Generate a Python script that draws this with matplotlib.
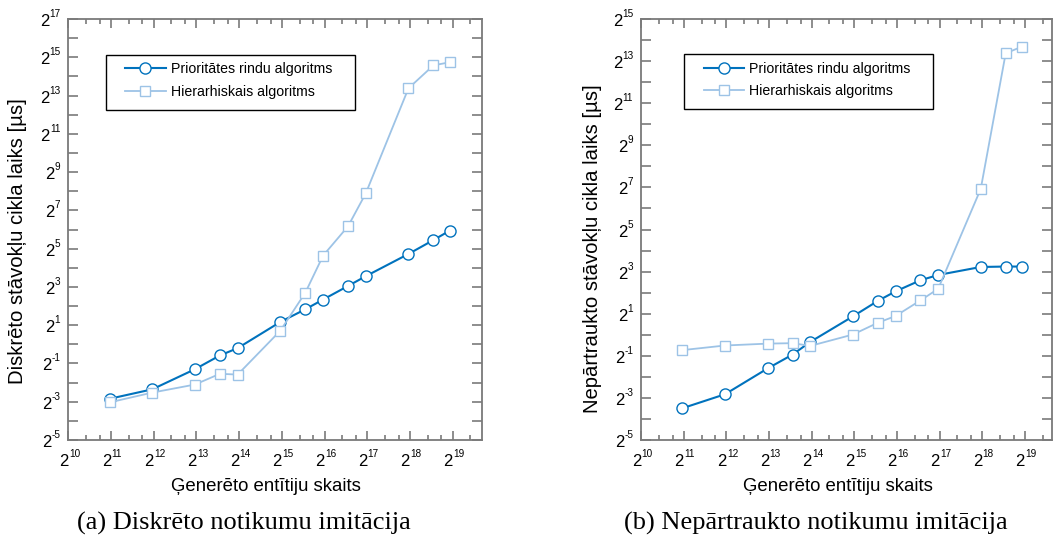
import matplotlib
matplotlib.use("Agg")
import matplotlib.pyplot as plt
import matplotlib.transforms as mtransforms
from matplotlib.ticker import FixedLocator, NullFormatter
from matplotlib.patches import Rectangle
from matplotlib.lines import Line2D

# ---------------- data ----------------
entities = [2000, 4000, 8000, 12000, 16000, 32000, 48000, 64000,
            96000, 128000, 256000, 384000, 500000]

disc_priority = [0.139, 0.196, 0.406, 0.669, 0.871, 2.25, 3.56, 5.06,
                 8.28, 11.8, 26.4, 43.7, 61.4]
disc_hier = [0.122, 0.174, 0.233, 0.344, 0.334, 1.64, 6.50, 24.8,
             72.0, 237, 10660, 24490, 27360]
cont_priority = [0.089, 0.141, 0.330, 0.521, 0.790, 1.83, 3.05, 4.17,
                 6.02, 7.16, 9.32, 9.45, 9.45]
cont_hier = [0.603, 0.702, 0.747, 0.758, 0.693, 1.007, 1.484, 1.853,
             3.10, 4.53, 122, 10580, 13210]

series_labels = ["Prioritātes rindu algoritms", "Hierarhiskais algoritms"]
x_label = "Ģenerēto entītiju skaits"
y_labels = ["Diskrēto stāvokļu cikla laiks [µs]",
            "Nepārtraukto stāvokļu cikla laiks [µs]"]
captions = ["(a) Diskrēto notikumu imitācija",
            "(b) Nepārtraukto notikumu imitācija"]
x_tick_exps = list(range(10, 20))
y_tick_exps_a = list(range(-5, 18))
y_tick_exps_b = list(range(-5, 16))

# ---------------- style ----------------
DARK = "#0072BD"
LIGHT = "#9DC3E6"
GRAY = "#7a7a7a"
SANS = "Liberation Sans"
SERIF = "Liberation Serif"
plt.rcParams["font.family"] = [SANS, "DejaVu Sans"]

fig = plt.figure(figsize=(10.54, 5.36), dpi=100)

ax_a = fig.add_axes([0.0648, 0.1791, 0.3922, 0.7854])
ax_b = fig.add_axes([0.6084, 0.1791, 0.3894, 0.7854])

panels = [
    (ax_a, disc_priority, disc_hier, y_tick_exps_a, 19.68, y_labels[0],
     (-0.124, 0.4715), (0.478, -0.121), (0.1372, 0.8979),
     (0.0907, 0.7838, 0.6028, 0.1306)),
    (ax_b, cont_priority, cont_hier, y_tick_exps_b, 19.63, y_labels[1],
     (-0.120, 0.4537), (0.479, -0.121), (0.1523, 0.8990),
     (0.1033, 0.7872, 0.6084, 0.1309)),
]

ylab_exp_texts = []

for (ax, prio, hier, yexps, xmax_e, ylab, ylab_pos, xlab_pos,
     leg_anchor, leg_rect) in panels:
    ax.set_xscale("log", base=2)
    ax.set_yscale("log", base=2)

    ax.plot(entities, prio, color=DARK, lw=1.5, marker="o", ms=8,
            mfc="white", mec=DARK, mew=1.0, zorder=3)
    ax.plot(entities, hier, color=LIGHT, lw=1.3, marker="s", ms=6.8,
            mfc="white", mec=LIGHT, mew=1.0, zorder=3)

    ax.set_xlim(2 ** 10, 2 ** xmax_e)
    ax.set_ylim(2.0 ** yexps[0], 2.0 ** yexps[-1])

    # ticks
    ax.xaxis.set_major_locator(FixedLocator([2.0 ** e for e in x_tick_exps]))
    minors = []
    for e in x_tick_exps:
        minors += [2.0 ** e * 4 / 3, 2.0 ** e * 5 / 3]
    ax.xaxis.set_minor_locator(FixedLocator(minors))
    ax.yaxis.set_major_locator(FixedLocator([2.0 ** e for e in yexps]))
    ax.yaxis.set_minor_locator(FixedLocator([]))
    ax.xaxis.set_major_formatter(NullFormatter())
    ax.xaxis.set_minor_formatter(NullFormatter())
    ax.yaxis.set_major_formatter(NullFormatter())
    ax.yaxis.set_minor_formatter(NullFormatter())
    ax.tick_params(axis="both", which="both", direction="in", top=True,
                   right=True, color=GRAY, width=1.2)
    ax.tick_params(axis="x", which="major", length=6.5)
    ax.tick_params(axis="x", which="minor", length=3.5)
    ax.tick_params(axis="y", which="major", length=7)
    for sp in ax.spines.values():
        sp.set_color(GRAY)
        sp.set_linewidth(1.3)

    # x tick labels 2^k
    tx = ax.get_xaxis_transform()
    for e in x_tick_exps:
        ax.text(2.0 ** e, 0, "2",
                transform=mtransforms.offset_copy(tx, fig, x=0, y=-25.5, units="dots"),
                ha="right", va="baseline", fontsize=12, color="black")
        ax.text(2.0 ** e, 0, str(e),
                transform=mtransforms.offset_copy(tx, fig, x=0.5, y=-16.5, units="dots"),
                ha="left", va="baseline", fontsize=7.2, color="black")

    # y tick label exponents (the "2" is placed after measuring)
    ty = ax.get_yaxis_transform()
    for e in yexps:
        if e % 2 == 0:
            continue
        t = ax.text(0, 2.0 ** e, str(e),
                    transform=mtransforms.offset_copy(ty, fig, x=-8, y=2, units="dots"),
                    ha="right", va="baseline", fontsize=7.2, color="black")
        ylab_exp_texts.append((ax, e, t))

    # axis labels
    ax.set_xlabel(x_label, fontsize=13.4, va="baseline", ha="center")
    ax.xaxis.set_label_coords(*xlab_pos)
    ax.set_ylabel(ylab, fontsize=14.6, va="center", ha="center")
    ax.yaxis.set_label_coords(*ylab_pos)

    # legend (frame drawn as a rectangle)
    ax.add_patch(Rectangle(leg_rect[:2], leg_rect[2], leg_rect[3],
                           transform=ax.transAxes, facecolor="white",
                           edgecolor="black", lw=1.0, zorder=4.5))
    handles = [
        Line2D([], [], color=DARK, lw=1.5, marker="o", ms=8, mfc="white",
               mec=DARK, mew=1.0),
        Line2D([], [], color=LIGHT, lw=1.3, marker="s", ms=6.8, mfc="white",
               mec=LIGHT, mew=1.0),
    ]
    ax.legend(handles, series_labels, loc="upper left",
              bbox_to_anchor=leg_anchor, frameon=False, borderpad=0,
              borderaxespad=0, handlelength=2.86, handletextpad=0.36,
              labelspacing=0.6, fontsize=10.2, numpoints=1)

# place the "2" of each y tick label left of its exponent
fig.canvas.draw()
renderer = fig.canvas.get_renderer()
for ax, e, t in ylab_exp_texts:
    w = t.get_window_extent(renderer).width
    ty = ax.get_yaxis_transform()
    ax.text(0, 2.0 ** e, "2",
            transform=mtransforms.offset_copy(ty, fig, x=-8 - w, y=-7, units="dots"),
            ha="right", va="baseline", fontsize=12, color="black")

# captions
fig.text(244 / 1054, 1 - 530 / 536, captions[0], ha="center", va="baseline",
         family=SERIF, fontsize=19)
fig.text(816 / 1054, 1 - 530 / 536, captions[1], ha="center", va="baseline",
         family=SERIF, fontsize=19)

fig.savefig("out.png", dpi=100)
